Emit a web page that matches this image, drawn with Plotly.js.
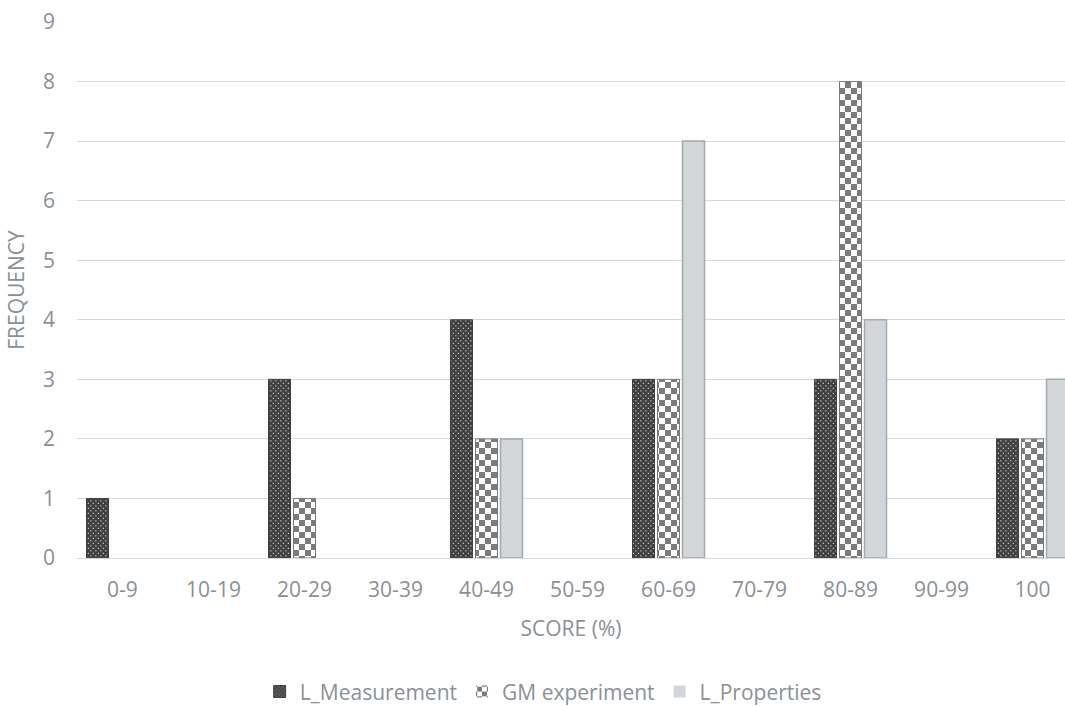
<!DOCTYPE html>
<html>
<head>
<meta charset="utf-8">
<script src="https://cdn.plot.ly/plotly-3.0.1.min.js"></script>
<style>html,body{margin:0;padding:0;background:#fff;}#chart{width:1065px;height:706px;}</style>
</head>
<body>
<div id="chart"></div>
<script>
const categories = ["0-9","10-19","20-29","30-39","40-49","50-59","60-69","70-79","80-89","90-99","100"];
const lMeasurement = [1,0,3,0,4,0,3,0,3,0,2];
const gmExperiment = [0,0,1,0,2,0,3,0,8,0,2];
const lProperties = [0,0,0,0,2,0,7,0,4,0,3];
const yTicks = [0,1,2,3,4,5,6,7,8,9];

const textColor = '#8a9096';
const fontFam = '"Open Sans", "Noto Sans", sans-serif';
const FS = 21;
const lw = arr => arr.map(v => v > 0 ? 1 : 0);

const traces = [
  {type:'bar', name:'L_Measurement', x:categories, y:lMeasurement,
   marker:{color:'#404040', pattern:{shape:'.', bgcolor:'#404040', fgcolor:'#ffffff', size:5, solidity:0.2, fillmode:'replace'},
           line:{color:'#404040', width:lw(lMeasurement)}}},
  {type:'bar', name:'GM experiment', x:categories, y:gmExperiment,
   marker:{color:'#7b7b7b', pattern:{shape:'+', bgcolor:'#ffffff', fgcolor:'#7b7b7b', size:12, solidity:0.5, fillmode:'replace'},
           line:{color:'#7b7b7b', width:lw(gmExperiment)}}},
  {type:'bar', name:'L_Properties', x:categories, y:lProperties,
   marker:{color:'#d2d6d9', line:{color:'#a4a9ac', width:lw(lProperties).map(w=>w*1.5)}}}
];

const layout = {
  width:1065, height:706,
  margin:{l:77, r:0, t:22, b:148},
  paper_bgcolor:'#ffffff', plot_bgcolor:'#ffffff',
  font:{family:fontFam, color:textColor, size:FS},
  barmode:'group', bargap:0.176, bargroupgap:0.12,
  showlegend:true,
  xaxis:{type:'category', range:[-0.5, 10.357], showgrid:false, zeroline:false, showline:false,
         ticks:'', tickfont:{size:FS, color:textColor}, ticklabelstandoff:17,
         title:{text:'SCORE (%)', font:{size:FS, color:textColor}, standoff:19}},
  yaxis:{range:[0,9], tickvals:yTicks, ticktext:yTicks.map(String), showgrid:true, gridcolor:'#d9d9d9', gridwidth:1,
         zeroline:true, zerolinecolor:'#d9d9d9', zerolinewidth:1, showline:false, ticks:'',
         tickfont:{size:FS, color:textColor}, ticklabelstandoff:21,
         title:{text:'FREQUENCY', font:{size:FS, color:textColor}, standoff:12}},
  legend:{orientation:'h', xref:'container', yref:'container', x:0.51, xanchor:'center', y:0.02, yanchor:'middle',
          itemwidth:30,
          font:{size:FS, color:textColor}, traceorder:'normal'}
};

Plotly.newPlot('chart', traces, layout, {displayModeBar:false, staticPlot:true}).then(() => {
  const NS = 'http://www.w3.org/2000/svg';
  document.querySelectorAll('pattern').forEach(p => {
    const hasCircle = p.querySelector('circle');
    const hasPath = p.querySelector('path');
    if (!hasCircle && !hasPath) return;
    while (p.firstChild) p.removeChild(p.firstChild);
    const mk = (x,y,w,h,fill) => { const r = document.createElementNS(NS,'rect'); r.setAttribute('x',x); r.setAttribute('y',y); r.setAttribute('width',w); r.setAttribute('height',h); r.setAttribute('fill',fill); p.appendChild(r); };
    if (hasCircle) {
      p.setAttribute('width',5); p.setAttribute('height',5);
      mk(0,0,5,5,'#404040');
      mk(0.8,0.8,1.1,1.1,'#e6e6e6');
      mk(3.3,3.3,1.1,1.1,'#e6e6e6');
    } else {
      p.setAttribute('width',12); p.setAttribute('height',12);
      mk(0,0,12,12,'#ffffff');
      mk(0,0,6,6,'#7b7b7b');
      mk(6,6,6,6,'#7b7b7b');
    }
  });
});
</script>
</body>
</html>
